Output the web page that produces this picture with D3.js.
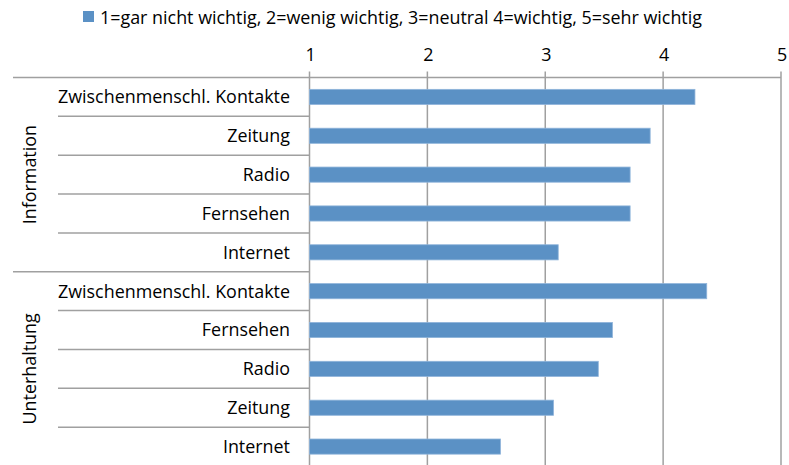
<!DOCTYPE html>
<html><head><meta charset="utf-8">
<script src="https://cdn.jsdelivr.net/npm/d3@7"></script>
<style>body{margin:0;background:#fff}svg{display:block}text{font-family:"Open Sans",sans-serif;fill:#000}</style>
</head><body>
<svg id="c" width="789" height="465"></svg>
<script>
const groups = ["Information", "Unterhaltung"];
const categories = [
  ["Zwischenmenschl. Kontakte", "Zeitung", "Radio", "Fernsehen", "Internet"],
  ["Zwischenmenschl. Kontakte", "Fernsehen", "Radio", "Zeitung", "Internet"]
];
const values = [
  [4.27, 3.89, 3.72, 3.72, 3.11],
  [4.37, 3.57, 3.45, 3.07, 2.62]
];
const tickValues = [1, 2, 3, 4, 5];
const legendLabel = "1=gar nicht wichtig, 2=wenig wichtig, 3=neutral 4=wichtig, 5=sehr wichtig";

(function () {
const rows = [];
groups.forEach((g, gi) => categories[gi].forEach((c, ci) => rows.push({key: gi + "-" + ci, group: g, gi, ci, label: c, value: values[gi][ci]})));

const svg = d3.select("#c");
const pL = 309.5, pR = 781, pT = 77.5, pB = 466;
const x = d3.scaleLinear().domain([1, 5]).range([pL, pR]);
const y = d3.scaleBand().domain(rows.map(r => r.key)).range([pT, pB]).paddingInner(0).paddingOuter(0);
const barH = y.bandwidth() * 0.39;
const grey = "#a0a0a0";
const fs = "17.9px";

svg.append("g").selectAll("line").data(tickValues).join("line")
  .attr("x1", d => x(d)).attr("x2", d => x(d)).attr("y1", pT - 6).attr("y2", pB)
  .attr("stroke", grey).attr("stroke-width", 1.5);
svg.append("line").attr("x1", 13).attr("x2", pR).attr("y1", pT).attr("y2", pT)
  .attr("stroke", grey).attr("stroke-width", 1.5);
svg.append("g").selectAll("text").data(tickValues).join("text")
  .attr("x", d => x(d) + 1).attr("y", 61).attr("text-anchor", "middle")
  .style("font-size", fs).text(d => d);

svg.append("g").selectAll("line").data(rows.slice(1)).join("line")
  .attr("x1", d => d.ci === 0 ? 13 : 58).attr("x2", pL)
  .attr("y1", d => y(d.key)).attr("y2", d => y(d.key))
  .attr("stroke", grey).attr("stroke-width", 1.5);

svg.append("g").selectAll("rect").data(rows).join("rect")
  .attr("x", x(1)).attr("y", d => y(d.key) + (y.bandwidth() - barH) / 2)
  .attr("width", d => x(d.value) - x(1)).attr("height", barH)
  .attr("fill", "#5b91c5").attr("stroke", "#8fb4da").attr("stroke-width", 0.8);

svg.append("g").selectAll("text").data(rows).join("text")
  .attr("x", 290).attr("y", d => y(d.key) + y.bandwidth() / 2)
  .attr("dy", "0.36em").attr("text-anchor", "end")
  .style("font-size", fs).text(d => d.label);

groups.forEach((g, gi) => {
  const ks = rows.filter(r => r.gi === gi);
  const cy = (y(ks[0].key) + y(ks[ks.length - 1].key) + y.bandwidth()) / 2;
  svg.append("text").attr("transform", `translate(30,${cy}) rotate(-90)`)
    .attr("text-anchor", "middle").attr("dy", "0.36em")
    .style("font-size", fs).text(g);
});

const lg = svg.append("g");
lg.append("rect").attr("x", 83).attr("y", 11).attr("width", 11).attr("height", 11).attr("fill", "#5b91c5");
lg.append("text").attr("x", 100).attr("y", 24).style("font-size", fs).text(legendLabel);
})();
</script>
</body></html>
